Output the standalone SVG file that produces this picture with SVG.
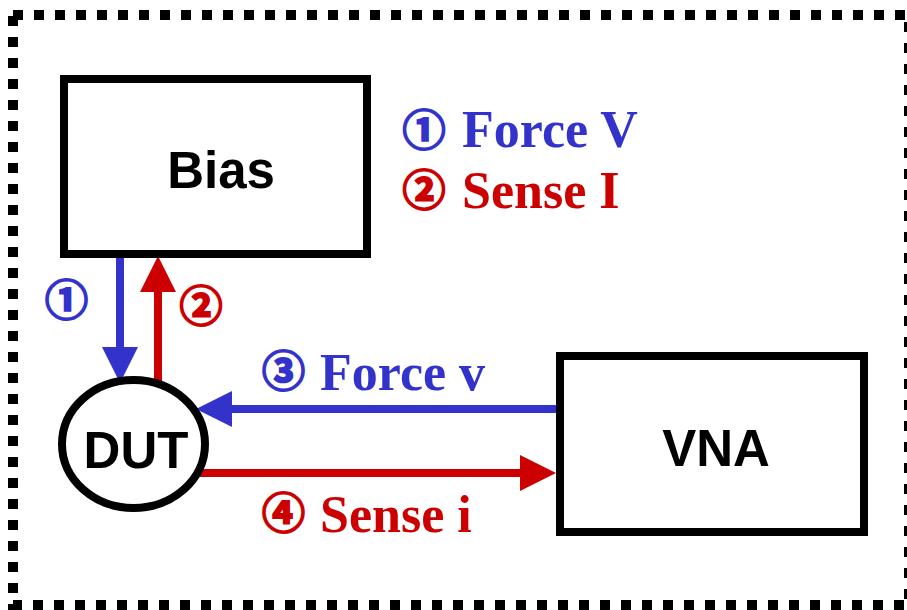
<svg xmlns="http://www.w3.org/2000/svg" width="907" height="610" viewBox="0 0 907 610">
<style>
.box{fill:#fff;stroke:#000;stroke-width:8}
.lbl{font-family:"Liberation Sans",Arial,sans-serif;font-weight:bold;font-size:51px;text-anchor:middle;fill:#000}
.t{font-family:"Liberation Serif","Times New Roman",serif;font-weight:bold;font-size:52px}
.c{font-family:"Noto Sans CJK JP","DejaVu Sans",sans-serif;font-weight:bold;font-size:43px;text-anchor:middle;stroke-width:2}
.blue{fill:#3333cc}
.red{fill:#cc0000}
.c.blue{stroke:#3333cc}
.c.red{stroke:#cc0000}
.lb{stroke:#3333cc;stroke-width:8;fill:none}
.lr{stroke:#cc0000;stroke-width:8;fill:none}
</style>
<defs>
<marker id="hb" viewBox="0 0 36 36" markerWidth="36" markerHeight="36" refX="2" refY="18" orient="auto" markerUnits="userSpaceOnUse"><path d="M0,0 L36,18 L0,36 Z" fill="#3333cc"/></marker>
<marker id="hr" viewBox="0 0 36 36" markerWidth="36" markerHeight="36" refX="2" refY="18" orient="auto" markerUnits="userSpaceOnUse"><path d="M0,0 L36,18 L0,36 Z" fill="#cc0000"/></marker>
</defs>
<rect x="0" y="0" width="907" height="610" fill="#fff"/>
<rect x="13" y="15" width="896" height="590" fill="none" stroke="#000" stroke-width="10" stroke-dasharray="10 11"/>
<g id="connectors">
<line class="lb" x1="120" y1="254" x2="120" y2="349" marker-end="url(#hb)"/>
<line class="lr" x1="158" y1="382" x2="158" y2="290" marker-end="url(#hr)"/>
<line class="lb" x1="556" y1="409" x2="230" y2="409" marker-end="url(#hb)"/>
<line class="lr" x1="200" y1="473" x2="522" y2="473" marker-end="url(#hr)"/>
</g>
<g id="bias">
<rect class="box" x="64" y="79" width="303" height="175"/>
<text class="lbl" x="221" y="188">Bias</text>
</g>
<g id="dut">
<ellipse cx="133.5" cy="444" rx="71.5" ry="64" fill="#fff" stroke="#000" stroke-width="8"/>
<text class="lbl" x="136" y="468">DUT</text>
</g>
<g id="vna">
<rect class="box" x="560" y="356" width="304" height="176"/>
<text class="lbl" x="716" y="466">VNA</text>
</g>
<g id="legend">
<text class="c blue" x="424" y="146">①</text>
<text class="t blue" x="462" y="147">Force V</text>
<text class="c red" x="424" y="206">②</text>
<text class="t red" x="462" y="208">Sense I</text>
</g>
<g id="labels">
<text class="c blue" x="66.5" y="316">①</text>
<text class="c red" x="201" y="322">②</text>
<text class="c blue" x="283.5" y="387">③</text>
<text class="t blue" x="320" y="390">Force v</text>
<text class="c red" x="283.5" y="529">④</text>
<text class="t red" x="320" y="532">Sense i</text>
</g>
</svg>
